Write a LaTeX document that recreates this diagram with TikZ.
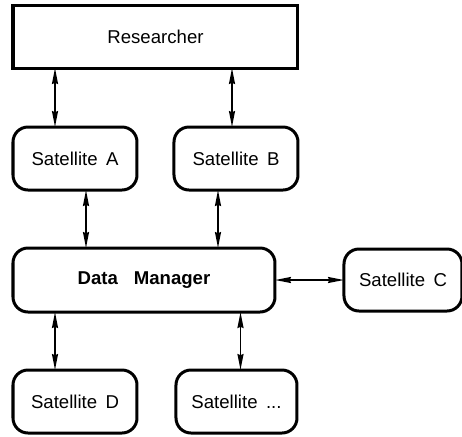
\documentclass[tikz,border=0pt]{standalone}
\usepackage{fontspec}
\setmainfont{Liberation Sans}
\usepackage{tikz}
\usetikzlibrary{positioning}
\usetikzlibrary{arrows.meta}

\begin{document}
\begin{tikzpicture}[roundnode/.style={rectangle, rounded corners=7.5pt, draw=black, line width=1.5pt, outer sep=0pt, minimum width=62pt, minimum height=31.5pt, inner sep=0pt, font=\fontsize{9.3}{11}\selectfont},
        squarenode/.style={rectangle, draw=black, line width=1.5pt, outer sep=0pt, minimum width=142.5pt, minimum height=31.5pt, inner sep=0pt, font=\fontsize{9.3}{11}\selectfont},
        link/.style={{Stealth[length=8pt,width=3pt,inset=0.6pt]}-{Stealth[length=8pt,width=3pt,inset=0.6pt]}, line width=0.8pt}]
        \useasboundingbox (0,0) rectangle (231pt,-218pt);

        \node[squarenode]   (researcher)  at (77.75pt,-18.25pt) {Researcher};
        \node[roundnode]    (satA)        [below right=29.5pt and 0pt of researcher.south west]{Satellite\hspace{0.45em}A};
        \node[roundnode]    (satB)        [right=18.5pt of satA]{Satellite\hspace{0.45em}B};
        \node[roundnode, minimum width=131pt, minimum height=32pt]    (manager)     [below right=29pt and 0pt of satA.south west]{\textbf{Data\hspace{0.85em}Manager}};
        \node[roundnode, minimum width=59pt, minimum height=31pt]     (satC)        [right=34.5pt of manager]{Satellite\hspace{0.45em}C};
        \node[roundnode]    (satD)        [below right=29pt and 0pt of manager.south west]{Satellite\hspace{0.45em}D};
        \node[roundnode, minimum width=60.5pt]    (satE)        [right=19.5pt of satD]{Satellite\hspace{0.45em}...};

        \draw[link] ([xshift=-10pt]satA.north |- researcher.south) -- ([xshift=-10pt]satA.north);
        \draw[link] ([xshift=-2pt]satB.north |- researcher.south) -- ([xshift=-2pt]satB.north);

        \draw[link] ([xshift=5.5pt]satA.south) -- ([xshift=5.5pt]satA.south |- manager.north);
        \draw[link] ([xshift=-9pt]satB.south) -- ([xshift=-9pt]satB.south |- manager.north);

        \draw[link] (manager.east |- satC.west) -- (satC.west);

        \draw[link] ([xshift=-10pt]satD.north |- manager.south) -- ([xshift=-10pt]satD.north);
        \draw[link] ([xshift=2pt]satE.north |- manager.south) -- ([xshift=2pt]satE.north);

    \end{tikzpicture}
\end{document}
